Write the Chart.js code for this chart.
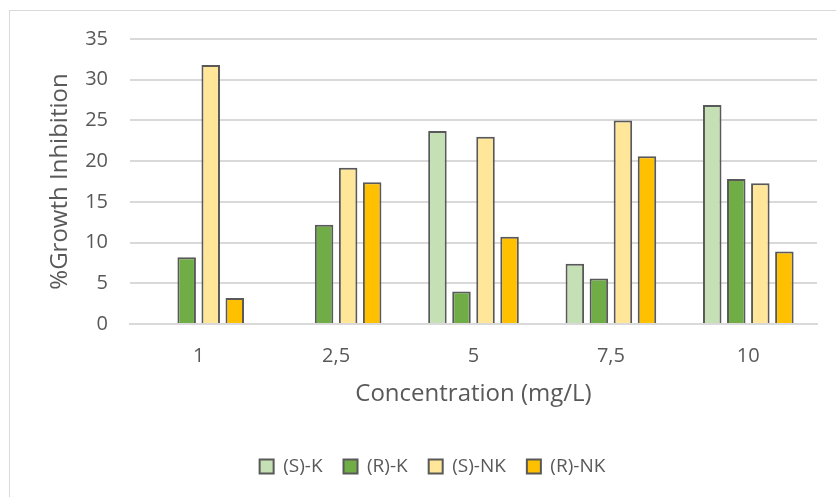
<!DOCTYPE html>
<html>
<head>
<meta charset="utf-8">
<script src="https://cdn.jsdelivr.net/npm/chart.js@4"></script>
<style>
  body { margin: 0; background: #fff; }
  #frame { position: absolute; left: 9px; top: 10px; width: 840px; height: 500px; border: 1px solid #d9d9d9; }
  #wrap { position: absolute; left: 0; top: 0; width: 836px; height: 497px; }
</style>
</head>
<body>
<div id="frame"></div>
<div id="wrap"><canvas id="chart" width="836" height="497"></canvas></div>
<script>
const concentrations = ['1', '2,5', '5', '7,5', '10'];
const sK = [0, 0, 23.7, 7.4, 26.9];
const rK = [8.2, 12.2, 4.0, 5.6, 17.8];
const sNK = [31.8, 19.2, 23.0, 25.0, 17.3];
const rNK = [3.2, 17.4, 10.7, 20.6, 8.9];
const yTicks = [0, 5, 10, 15, 20, 25, 30, 35];

const textColor = '#595959';
const fontFamily = '"Open Sans", Lato, sans-serif';

function series(label, data, color) {
  return {
    label: label,
    data: data,
    backgroundColor: color,
    borderColor: '#595959',
    borderWidth: 2,
    borderSkipped: 'bottom',
    categoryPercentage: 0.7,
    barPercentage: 0.77
  };
}

// legend sits centred under the plot area rather than the whole canvas
const legendShift = {
  id: 'legendShift',
  afterLayout(chart) {
    chart.legend.left += 24;
    chart.legend.right += 24;
  }
};

const ctx = document.getElementById('chart').getContext('2d');
new Chart(ctx, {
  type: 'bar',
  data: {
    labels: concentrations,
    datasets: [
      series('(S)-K', sK, '#C5E0B4'),
      series('(R)-K', rK, '#70AD47'),
      series('(S)-NK', sNK, '#FFE699'),
      series('(R)-NK', rNK, '#FFC000')
    ]
  },
  plugins: [legendShift],
  options: {
    responsive: false,
    animation: false,
    layout: { padding: { top: 39, right: 19, left: 0, bottom: 11 } },
    plugins: {
      tooltip: { enabled: false },
      legend: {
        position: 'bottom',
        labels: {
          color: textColor,
          font: { family: fontFamily, size: 19 },
          boxWidth: 14,
          boxHeight: 14,
          padding: 21
        }
      }
    },
    scales: {
      x: {
        grid: { display: false },
        border: { color: '#d9d9d9', width: 2 },
        ticks: { color: textColor, font: { family: fontFamily, size: 20 }, padding: 12 },
        title: {
          display: true,
          text: 'Concentration (mg/L)',
          color: textColor,
          font: { family: fontFamily, size: 24 },
          padding: { top: 6, bottom: 27 }
        },
        afterFit: (scale) => { scale.height = 112; }
      },
      y: {
        min: 0,
        max: 35,
        afterBuildTicks: (scale) => { scale.ticks = yTicks.map(v => ({ value: v })); },
        grid: { color: '#d9d9d9', lineWidth: 2, drawTicks: false },
        border: { display: false },
        ticks: { color: textColor, font: { family: fontFamily, size: 20 }, padding: 22 },
        title: {
          display: true,
          text: '%Growth Inhibition',
          color: textColor,
          font: { family: fontFamily, size: 24 },
          padding: { top: 46, bottom: 0 }
        },
        afterFit: (scale) => { scale.width = 130; }
      }
    }
  }
});
</script>
</body>
</html>
